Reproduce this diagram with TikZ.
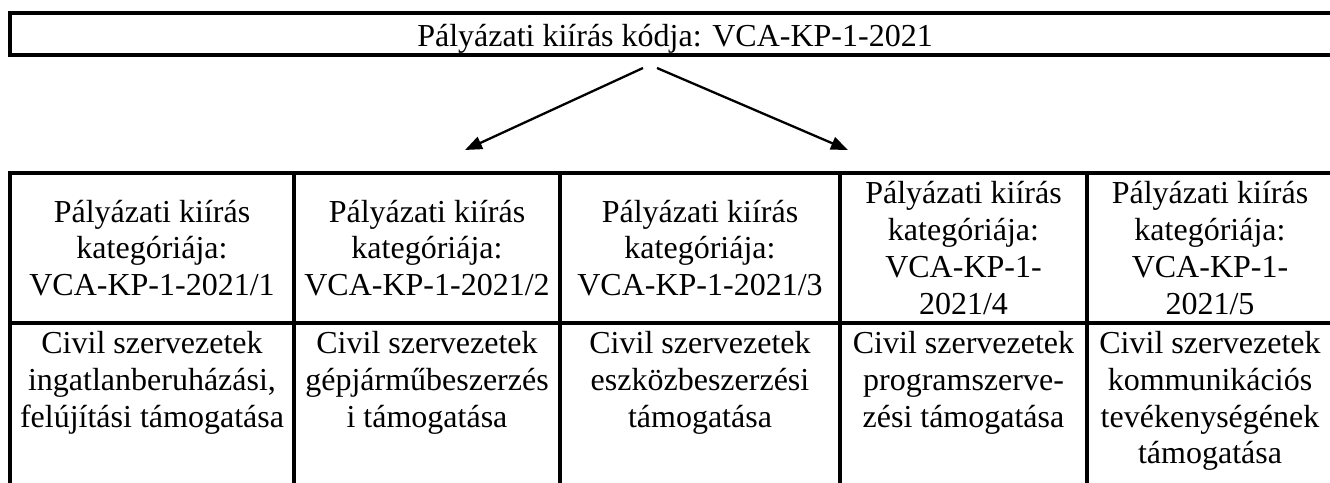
\documentclass[tikz,border=0pt]{standalone}
\usepackage{fontspec}
\setmainfont{Liberation Serif}
\usetikzlibrary{arrows.meta}
\begin{document}
\begin{tikzpicture}[x=1pt,y=-1pt,
  txt/.style={font=\fontsize{32}{36.8}\selectfont, align=center, inner sep=0pt},
  cellbox/.style={draw, line width=3.2pt, inner sep=0pt},
  topbox/.style={draw, line width=3.5pt, inner sep=0pt},
  arr/.style={line width=2.3pt, -{Triangle[length=17pt,width=13pt]}}]
\useasboundingbox (0,0) rectangle (1330,482);
\clip (0,0) rectangle (1330,482);
% top box
\node[topbox, txt, minimum width=1330pt, text height=33pt, text depth=9pt] (code) at (675,34) {Pályázati kiírás kódja: VCA-KP-1-2021};
% arrows
\coordinate (s1) at (643,68);
\coordinate (e1) at (465,150);
\coordinate (s2) at (657,68);
\coordinate (e2) at (848,150);
\draw[arr] (s1) -- (e1);
\draw[arr] (s2) -- (e2);
% header row
\node[cellbox, txt, minimum width=284pt, minimum height=150pt] (h1) at (152,248) {Pályázati kiírás\\kategóriája:\\VCA-KP-1-2021/1};
\node[cellbox, txt, minimum width=266pt, minimum height=150pt] (h2) at (427,248) {Pályázati kiírás\\kategóriája:\\VCA-KP-1-2021/2};
\node[cellbox, txt, minimum width=280pt, minimum height=150pt] (h3) at (700,248) {Pályázati kiírás\\kategóriája:\\VCA-KP-1-2021/3};
\node[cellbox, txt, minimum width=247pt, minimum height=150pt] (h4) at (963.5,248) {Pályázati kiírás\\kategóriája:\\VCA-KP-1-\\2021/4};
\node[cellbox, txt, minimum width=246pt, minimum height=150pt] (h5) at (1210,248) {Pályázati kiírás\\kategóriája:\\VCA-KP-1-\\2021/5};
% body row boxes
\node[cellbox, minimum width=284pt, minimum height=217pt] (b1) at (152,431.5) {};
\node[cellbox, minimum width=266pt, minimum height=217pt] (b2) at (427,431.5) {};
\node[cellbox, minimum width=280pt, minimum height=217pt] (b3) at (700,431.5) {};
\node[cellbox, minimum width=247pt, minimum height=217pt] (b4) at (963.5,431.5) {};
\node[cellbox, minimum width=246pt, minimum height=217pt] (b5) at (1210,431.5) {};
% body texts
\node[txt, anchor=north] (t1) at (152,331) {Civil szervezetek\\ingatlanberuházási,\\felújítási támogatása};
\node[txt, anchor=north] (t2) at (427,331) {Civil szervezetek\\gépjárműbeszerzés\\i támogatása};
\node[txt, anchor=north] (t3) at (700,331) {Civil szervezetek\\eszközbeszerzési\\támogatása};
\node[txt, anchor=north] (t4) at (963.5,331) {Civil szervezetek\\programszerve-\\zési támogatása};
\node[txt, anchor=north] (t5) at (1210,331) {Civil szervezetek\\kommunikációs\\tevékenységének\\támogatása};
\end{tikzpicture}
\end{document}
